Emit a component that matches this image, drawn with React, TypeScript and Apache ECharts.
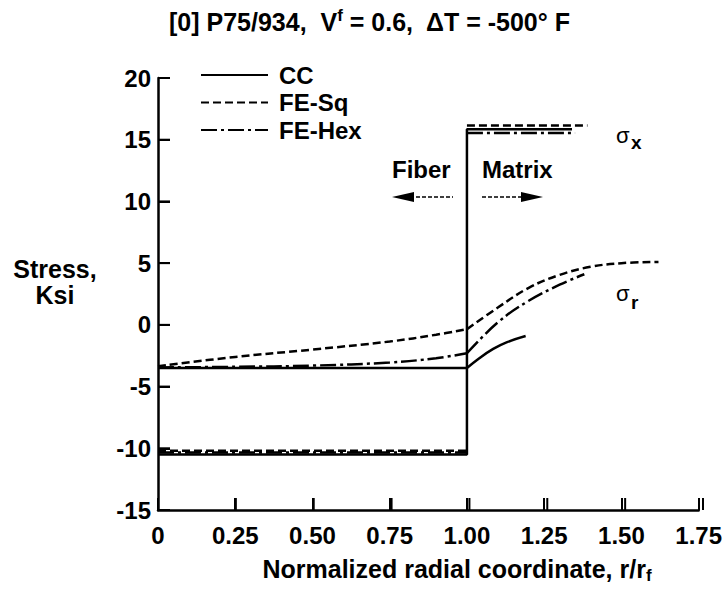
import React, { useEffect, useRef } from "react";
import * as echarts from "echarts";

const FONT = '"Liberation Sans", Arial, Helvetica, sans-serif';

// Legend entries (one per analysis method)
const methods = ["CC", "FE-Sq", "FE-Hex"];

// Axis ranges / ticks
const xMin = 0;
const xMax = 1.75;
const xStep = 0.25;
const yMin = -15;
const yMax = 20;
const yStep = 5;
const xTickValues = [0.25, 0.5, 0.75, 1.0, 1.25, 1.5, 1.75];
const yTickValues = [-10, -5, 0, 5, 10, 15, 20];

// Axial stress sigma_x, Ksi, vs r/r_f
const ccSigmaX = [[0, -10.5], [1, -10.5], [1, 15.85], [1.34, 15.85]];
const sqSigmaXFiber = [[0, -10.2], [1, -10.2]];
const sqSigmaXMatrix = [[1, 16.15], [1.39, 16.15]];
const hexSigmaXFiber = [[0, -10.35], [1, -10.35]];
const hexSigmaXMatrix = [[1, 15.55], [1.35, 15.55]];

// Radial stress sigma_r, Ksi, vs r/r_f
const ccSigmaRFiber = [[0, -3.5], [1, -3.5]];
const ccSigmaRMatrix = [[1, -3.5], [1.04, -2.7], [1.085, -1.95], [1.13, -1.4], [1.19, -0.9]];
const sqSigmaRFiber = [[0, -3.35], [0.25, -2.6], [0.5, -2.0], [0.75, -1.35], [0.9, -0.8], [1, -0.35]];
const sqSigmaRMatrix = [[1, -0.35], [1.1, 1.4], [1.2, 3.0], [1.3, 4.05], [1.4, 4.7], [1.5, 5.0], [1.62, 5.1]];
const hexSigmaRFiber = [[0, -3.45], [0.25, -3.4], [0.5, -3.3], [0.75, -3.05], [0.9, -2.7], [1, -2.3]];
const hexSigmaRMatrix = [[1, -2.3], [1.1, 0.2], [1.2, 1.95], [1.3, 3.25], [1.38, 4.1]];

const dash: Record<string, any> = {
  CC: "solid",
  "FE-Sq": [8, 4],
  "FE-Hex": [16, 4, 3, 4],
};

const GRID = { left: 158, right: 22, top: 78, bottom: 80 };
const W = 725;
const H = 590;
const TICK_LEN = 12;

// tick length expressed in each axis' data units
const plotW = W - GRID.left - GRID.right;
const plotH = H - GRID.top - GRID.bottom;
const xTickLenData = (TICK_LEN / plotW) * (xMax - xMin);
const yTickLenData = (TICK_LEN / plotH) * (yMax - yMin);

function seg(name: string, data: number[][], smooth: boolean | number = false, extra: any = {}) {
  return {
    type: "line",
    name,
    data,
    symbol: "none",
    showSymbol: false,
    smooth,
    z: name === "CC" ? 4 : 3,
    lineStyle: { color: "#000", width: 2.5, type: dash[name] },
    itemStyle: { color: "#000" },
    ...extra,
  };
}

// inward tick marks on the left and bottom axes
const tickMarkLine = {
  silent: true,
  symbol: ["none", "none"],
  label: { show: false },
  emphasis: { disabled: true },
  lineStyle: { color: "#000", width: 2, type: "solid" },
  data: [
    ...xTickValues.map((v) => [{ coord: [v, yMin] }, { coord: [v, yMin + yTickLenData] }]),
    ...yTickValues.map((v) => [{ coord: [xMin, v] }, { coord: [xMin + xTickLenData, v] }]),
  ],
};

const txt = (id: string, text: string, x: number, y: number, extra: any = {}) => ({
  id,
  type: "text",
  x,
  y,
  style: {
    text,
    fill: "#000",
    font: `bold 24px ${FONT}`,
    textVerticalAlign: "middle",
    ...extra,
  },
});

const axisCommon = {
  type: "value",
  splitLine: { show: false },
  axisLine: { show: true, onZero: false, lineStyle: { color: "#000", width: 2.5 } },
  axisTick: { show: true, inside: true, length: TICK_LEN, lineStyle: { color: "#000", width: 2 } },
};

export default function App() {
  const ref = useRef<HTMLDivElement>(null);

  useEffect(() => {
    if (!ref.current) return;
    const chart = echarts.init(ref.current, undefined, { renderer: "svg" });

    // plain linear map of the grid box, used for the tick rectangles
    const gx = (x: number) => GRID.left + ((x - xMin) / (xMax - xMin)) * plotW;
    const gy = (y: number) => GRID.top + ((yMax - y) / (yMax - yMin)) * plotH;

    const tickRects = [
      ...xTickValues.map((v, i) => ({
        id: `xt${i}`,
        type: "rect",
        z: 100,
        shape: { x: gx(v) - 1, y: gy(yMin) - TICK_LEN, width: 2, height: TICK_LEN },
        style: { fill: "#000" },
      })),
      ...yTickValues.map((v, i) => ({
        id: `yt${i}`,
        type: "rect",
        z: 100,
        shape: { x: gx(xMin), y: gy(v) - 1, width: TICK_LEN, height: 2 },
        style: { fill: "#000" },
      })),
    ];

    chart.setOption({
      animation: false,
      backgroundColor: "#fff",
      title: {
        text: "{a|[0] P75/934,  V}{s|f}{a| = 0.6,  ΔT = -500° F}",
        left: 164,
        top: 2,
        textStyle: {
          rich: {
            a: { fontFamily: FONT, fontWeight: "bold", fontSize: 25, lineHeight: 30, color: "#000" },
            s: { fontFamily: FONT, fontWeight: "bold", fontSize: 17, lineHeight: 17, verticalAlign: "top", color: "#000" },
          },
        },
      },
      legend: {
        data: methods,
        orient: "vertical",
        left: 200,
        top: 63,
        padding: 0,
        itemWidth: 67,
        itemHeight: 14,
        itemGap: 3.5,
        selectedMode: false,
        itemStyle: { opacity: 0 },
        textStyle: { fontFamily: FONT, fontWeight: "bold", fontSize: 24, lineHeight: 24, color: "#000", padding: [0, 0, 0, 6] },
      },
      grid: { ...GRID, containLabel: false },
      xAxis: {
        ...axisCommon,
        min: xMin,
        max: xMax,
        interval: xStep,
        axisLabel: {
          margin: 13,
          color: "#000",
          fontFamily: FONT,
          fontWeight: "bold",
          fontSize: 24,
          formatter: (v: number) => (v === 0 ? "0" : v.toFixed(2)),
        },
      },
      yAxis: {
        ...axisCommon,
        min: yMin,
        max: yMax,
        interval: yStep,
        axisLabel: {
          margin: 7,
          color: "#000",
          fontFamily: FONT,
          fontWeight: "bold",
          fontSize: 24,
        },
      },
      series: [
        seg("CC", ccSigmaX, false, { markLine: tickMarkLine }),
        seg("CC", ccSigmaRFiber),
        seg("CC", ccSigmaRMatrix, 0.4),
        seg("FE-Sq", sqSigmaXFiber),
        seg("FE-Sq", sqSigmaXMatrix),
        seg("FE-Sq", sqSigmaRFiber, 0.4),
        seg("FE-Sq", sqSigmaRMatrix, 0.4),
        seg("FE-Hex", hexSigmaXFiber),
        seg("FE-Hex", hexSigmaXMatrix),
        seg("FE-Hex", hexSigmaRFiber, 0.4),
        seg("FE-Hex", hexSigmaRMatrix, 0.4),
      ],
      graphic: [
        ...tickRects,
        {
          id: "yname",
          type: "text",
          x: 55,
          y: 256,
          style: {
            text: "Stress,\nKsi",
            fill: "#000",
            font: `bold 25px ${FONT}`,
            textAlign: "center",
            textVerticalAlign: "top",
            lineHeight: 26,
          },
        },
        {
          id: "xname",
          type: "text",
          x: 457,
          y: 554,
          style: {
            text: "{a|Normalized radial coordinate, r/r}{s|f}",
            textAlign: "center",
            textVerticalAlign: "top",
            rich: {
              a: { font: `bold 25px ${FONT}`, fill: "#000", lineHeight: 30 },
              s: { font: `bold 17px ${FONT}`, fill: "#000", lineHeight: 17, verticalAlign: "bottom" },
            },
          },
        },
        txt("fiber", "Fiber", 392, 169),
        txt("matrix", "Matrix", 482, 169),
        // fiber arrow (points left)
        { id: "fa1", type: "line", shape: { x1: 410, y1: 197, x2: 453, y2: 197 }, style: { stroke: "#000", lineWidth: 1.5, lineDash: [4, 2] } },
        { id: "fa2", type: "polygon", shape: { points: [[392, 197], [414, 192], [414, 202]] }, style: { fill: "#000" } },
        // matrix arrow (points right)
        { id: "ma1", type: "line", shape: { x1: 482, y1: 197, x2: 525, y2: 197 }, style: { stroke: "#000", lineWidth: 1.5, lineDash: [4, 2] } },
        { id: "ma2", type: "polygon", shape: { points: [[543, 197], [521, 192], [521, 202]] }, style: { fill: "#000" } },
        // curve labels
        { id: "sx1", type: "text", x: 616, y: 135, style: { text: "σ", fill: "#000", font: `22px ${FONT}`, textVerticalAlign: "middle" } },
        { id: "sx2", type: "text", x: 631, y: 142, style: { text: "x", fill: "#000", font: `bold 19px ${FONT}`, textVerticalAlign: "middle" } },
        { id: "sr1", type: "text", x: 616, y: 293, style: { text: "σ", fill: "#000", font: `22px ${FONT}`, textVerticalAlign: "middle" } },
        { id: "sr2", type: "text", x: 631, y: 302, style: { text: "r", fill: "#000", font: `bold 19px ${FONT}`, textVerticalAlign: "middle" } },
      ],
    });

    return () => chart.dispose();
  }, []);

  return (
    <div
      ref={ref}
      style={{ position: "fixed", left: 0, top: 0, width: W, height: H, background: "#fff" }}
    />
  );
}
